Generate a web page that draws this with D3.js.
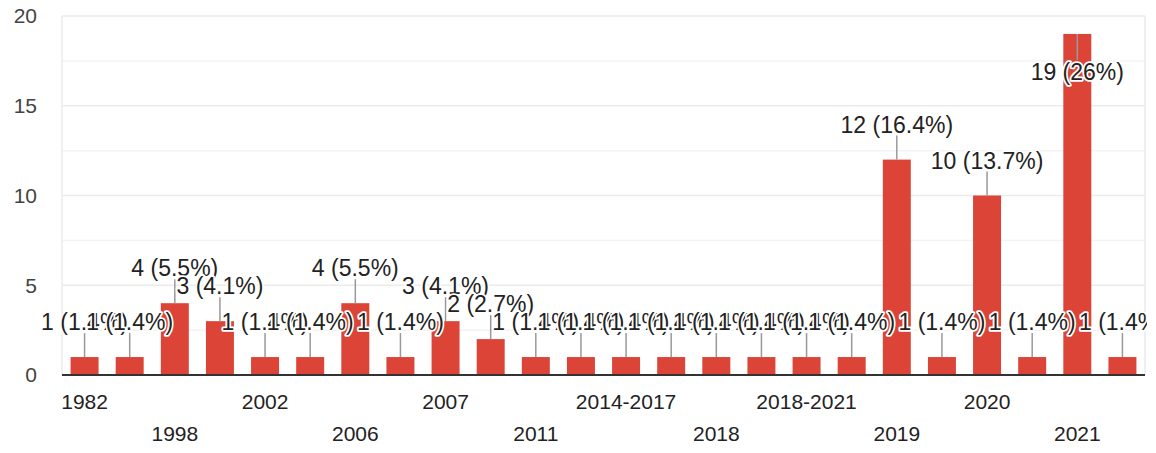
<!DOCTYPE html>
<meta charset="utf-8">
<style>
body {
  margin: 0;
  background: #fff;
  font-family: Arial, "Liberation Sans", sans-serif;
}
.grid line { stroke: #ebebeb; stroke-width: 1.5; }
.grid line.minor { stroke: #f3f3f3; }
.ylab { font-size: 21px; fill: #444; }
.xlab { font-size: 21px; fill: #222; }
.note {
  font-size: 23px;
  fill: #222;
  stroke: #fff;
  stroke-width: 3.5px;
  paint-order: stroke;
  stroke-linejoin: round;
}
</style>
<body>
<svg width="1156" height="453"></svg>
<script src="https://d3js.org/d3.v7.min.js"></script>
<script>
// answers (sorted as text, like the form summary)
var categories = ["1982", "1990", "1998", "2000", "2002", "2005", "2006", "2006-2007",
                  "2007", "2010", "2011", "2013", "2014-2017", "2015", "2018", "2018-2019",
                  "2018-2021", "2018-2022", "2019", "2019-2020", "2020", "2020-2021", "2021", "2022"];
var counts = [1, 1, 4, 3, 1, 1, 4, 1, 3, 2, 1, 1, 1, 1, 1, 1, 1, 1, 12, 1, 10, 1, 19, 1];
var yTicks = [0, 5, 10, 15, 20];
var yMinor = [2.5, 7.5, 12.5, 17.5];

var total = d3.sum(counts);

// note: "top" is taken by window.top, hence the longer names
var svg = d3.select("svg"),
    plotL = 62, plotR = 1145, plotT = 16, plotB = 375;

var x = d3.scaleBand().domain(categories).range([plotL, plotR]).paddingInner(0.38).paddingOuter(0.19),
    y = d3.scaleLinear().domain([0, 20]).range([plotB, plotT]);

var data = categories.map(function(c, i) { return {cat: c, n: counts[i], i: i}; });

svg.append("clipPath").attr("id", "noteclip")
  .append("rect").attr("x", 0).attr("y", 0).attr("width", plotR + 2).attr("height", plotB);

// gridlines
var grid = svg.append("g").attr("class", "grid");
grid.selectAll("line.minor").data(yMinor).enter().append("line")
    .attr("class", "minor")
    .attr("x1", plotL).attr("x2", plotR)
    .attr("y1", function(d) { return y(d); }).attr("y2", function(d) { return y(d); });
grid.selectAll("line.major").data(yTicks.slice(1)).enter().append("line")
    .attr("class", "major")
    .attr("x1", plotL).attr("x2", plotR)
    .attr("y1", function(d) { return y(d); }).attr("y2", function(d) { return y(d); });
grid.append("line").attr("x1", plotL).attr("x2", plotL).attr("y1", plotT).attr("y2", plotB);
grid.append("line").attr("x1", plotR).attr("x2", plotR).attr("y1", plotT).attr("y2", plotB);

// y labels
svg.selectAll(".ylab").data(yTicks).enter().append("text")
    .attr("class", "ylab")
    .attr("x", 37)
    .attr("y", function(d) { return y(d); })
    .attr("dy", "0.35em")
    .attr("text-anchor", "end")
    .text(function(d) { return d; });

// bars
svg.selectAll(".bar").data(data).enter().append("rect")
    .attr("class", "bar")
    .attr("fill", "#db4437")
    .attr("x", function(d) { return x(d.cat); })
    .attr("width", x.bandwidth())
    .attr("y", function(d) { return y(d.n); })
    .attr("height", function(d) { return plotB - y(d.n); });

// baseline
svg.append("line")
    .attr("x1", plotL).attr("x2", plotR)
    .attr("y1", plotB).attr("y2", plotB)
    .attr("stroke", "#333").attr("stroke-width", 2);

// x labels, every other one, in two rows
svg.selectAll(".xlab").data(data.filter(function(d) { return d.i % 2 === 0; })).enter().append("text")
    .attr("class", "xlab")
    .attr("x", function(d) { return x(d.cat) + x.bandwidth() / 2; })
    .attr("y", function(d) { return d.i % 4 === 0 ? 409 : 441; })
    .attr("text-anchor", "middle")
    .text(function(d) { return d.cat; });

// annotations
function pct(n) { return +(n / total * 100).toFixed(1) + "%"; }

var notes = svg.append("g").attr("clip-path", "url(#noteclip)")
  .selectAll(".ann").data(data).enter().append("g").attr("class", "ann");
notes.each(function(d) {
  var g = d3.select(this),
      cx = x(d.cat) + x.bandwidth() / 2,
      yt = y(d.n),
      inside = yt - 50 < plotT;
  g.append("line")
      .attr("x1", cx).attr("x2", cx)
      .attr("y1", yt).attr("y2", inside ? yt + 26 : yt - 24)
      .attr("stroke", "#999").attr("stroke-width", 1.5);
  g.append("text")
      .attr("class", "note")
      .attr("x", cx)
      .attr("y", inside ? yt + 46 : yt - 27)
      .attr("text-anchor", "middle")
      .text(d.n + " (" + pct(d.n) + ")");
});
</script>
</body>
